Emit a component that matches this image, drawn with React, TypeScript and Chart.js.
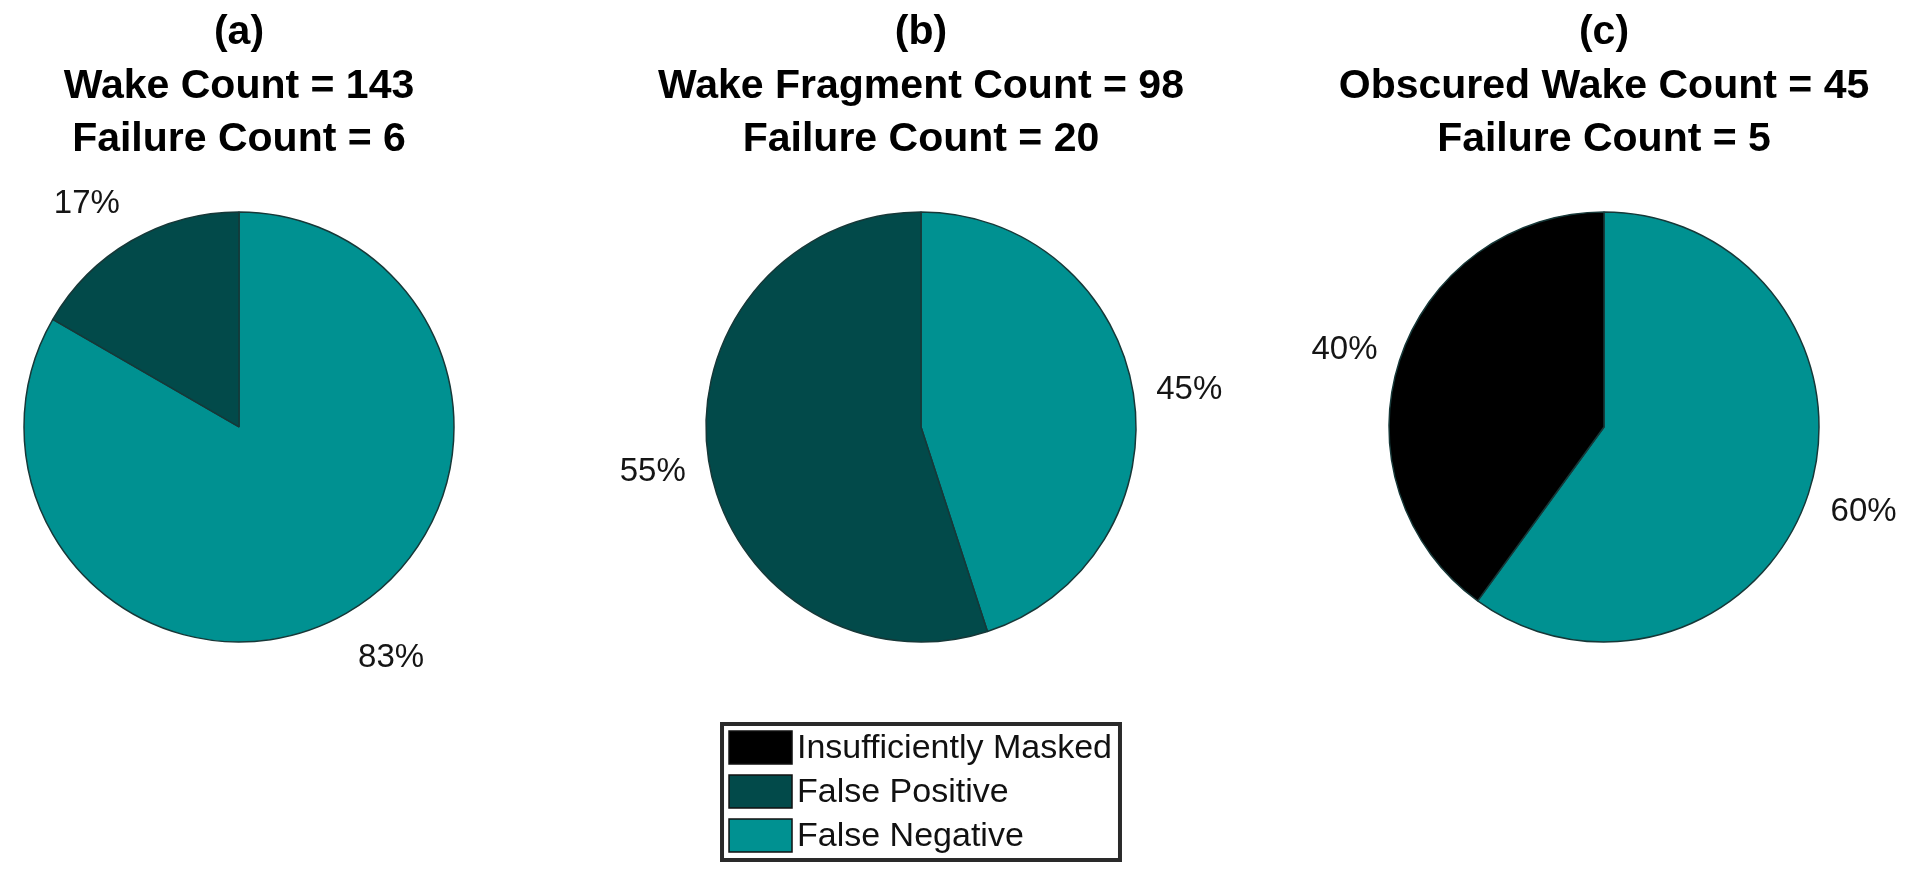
import React, { useEffect, useRef } from 'react';
import { Chart, registerables } from 'chart.js';

Chart.register(...registerables);

// ---------- data ----------
const categories = ['False Negative', 'False Positive', 'Insufficiently Masked'];
const sliceColors = ['#009191', '#024a4a', '#000000'];
const titleA = ['(a)', 'Wake Count = 143', 'Failure Count = 6'];
const titleB = ['(b)', 'Wake Fragment Count = 98', 'Failure Count = 20'];
const titleC = ['(c)', 'Obscured Wake Count = 45', 'Failure Count = 5'];
const countsA = [5, 1, 0];
const countsB = [9, 11, 0];
const countsC = [3, 0, 2];

const FONT = '"Liberation Sans", Arial, Helvetica, sans-serif';
const PANEL_W = 640;
const PANEL_H = 879;
const panelCenters = [239, 921, 1604];

const pctPlugin = {
  id: 'pctLabels',
  afterDatasetsDraw(chart: any) {
    const ctx = chart.ctx;
    const meta = chart.getDatasetMeta(0);
    const data = chart.data.datasets[0].data as number[];
    const total = data.reduce((a: number, b: number) => a + b, 0);
    ctx.save();
    ctx.font = `33px ${FONT}`;
    ctx.fillStyle = '#151515';
    ctx.textAlign = 'center';
    ctx.textBaseline = 'middle';
    meta.data.forEach((arc: any, i: number) => {
      if (!data[i]) return;
      const p = arc.getProps(['x', 'y', 'startAngle', 'endAngle', 'outerRadius'], true);
      const mid = (p.startAngle + p.endAngle) / 2;
      const ux = Math.cos(mid);
      const uy = Math.sin(mid);
      const txt = Math.round((data[i] / total) * 100) + '%';
      const w = ctx.measureText(txt).width;
      const x = p.x + ux * p.outerRadius * 1.2 + Math.sign(ux) * w * (0.5 - 0.3 * Math.abs(ux));
      const y = p.y + uy * p.outerRadius * 1.22 + 4;
      ctx.fillText(txt, x, y);
    });
    ctx.restore();
  },
};

const boxLegendPlugin = {
  id: 'boxLegend',
  afterDraw(chart: any, _args: any, opts: any) {
    if (!opts || !opts.display) return;
    const ctx = chart.ctx;
    const ds = chart.data.datasets[0];
    const labels = chart.data.labels as string[];
    const order = labels.map((_, i) => i).reverse();
    ctx.save();
    ctx.font = `34px ${FONT}`;
    const maxText = Math.max(...order.map((i) => ctx.measureText(labels[i]).width));
    const swW = 63, swH = 33, padL = 9, gap = 5, padR = 10, pitch = 44, padT = 9;
    const width = padL + swW + gap + maxText + padR;
    const height = padT + pitch * order.length - (pitch - swH) + 10;
    const cx = (chart.chartArea.left + chart.chartArea.right) / 2;
    const left = cx - width / 2;
    const top = opts.top;
    ctx.fillStyle = '#ffffff';
    ctx.fillRect(left, top, width, height);
    ctx.lineWidth = 4;
    ctx.strokeStyle = '#2a2a2a';
    ctx.strokeRect(left + 2, top + 2, width - 4, height - 4);
    order.forEach((i, row) => {
      const y = top + padT + row * pitch;
      ctx.fillStyle = ds.backgroundColor[i];
      ctx.fillRect(left + padL, y, swW, swH);
      ctx.lineWidth = 1.5;
      ctx.strokeStyle = '#111';
      ctx.strokeRect(left + padL, y, swW, swH);
      ctx.fillStyle = '#111';
      ctx.textAlign = 'left';
      ctx.textBaseline = 'middle';
      ctx.fillText(labels[i], left + padL + swW + gap, y + swH / 2 + 1);
    });
    ctx.restore();
  },
};

function makeConfig(counts: number[], title: string[], withLegend: boolean): any {
  return {
    type: 'pie',
    data: {
      labels: categories,
      datasets: [
        {
          data: counts,
          backgroundColor: sliceColors,
          borderColor: '#163838',
          borderWidth: 1.5,
          radius: 215,
        },
      ],
    },
    options: {
      responsive: false,
      animation: false,
      layout: { padding: { top: 0, bottom: 201.5, left: 0, right: 0 } },
      plugins: {
        legend: { display: false },
        tooltip: { enabled: false },
        title: {
          display: true,
          text: title,
          color: '#000',
          font: { family: FONT, size: 41, weight: 'bold', lineHeight: 1.3 },
          padding: { top: 6.5, bottom: 10 },
        },
        boxLegend: { display: withLegend, top: 722 },
      },
    },
    plugins: [pctPlugin, boxLegendPlugin],
  };
}

export default function App() {
  const refA = useRef<HTMLCanvasElement>(null);
  const refB = useRef<HTMLCanvasElement>(null);
  const refC = useRef<HTMLCanvasElement>(null);

  useEffect(() => {
    const charts: Chart[] = [];
    if (refA.current) charts.push(new Chart(refA.current, makeConfig(countsA, titleA, false)));
    if (refB.current) charts.push(new Chart(refB.current, makeConfig(countsB, titleB, true)));
    if (refC.current) charts.push(new Chart(refC.current, makeConfig(countsC, titleC, false)));
    return () => charts.forEach((c) => c.destroy());
  }, []);

  const refs = [refA, refB, refC];
  return (
    <div
      style={{
        position: 'absolute',
        left: 0,
        top: 0,
        width: 1911,
        height: 879,
        overflow: 'hidden',
        background: '#fff',
      }}
    >
      {refs.map((r, i) => (
        <canvas
          key={i}
          ref={r}
          width={PANEL_W}
          height={PANEL_H}
          style={{
            position: 'absolute',
            left: panelCenters[i] - PANEL_W / 2,
            top: 0,
            width: PANEL_W,
            height: PANEL_H,
          }}
        />
      ))}
    </div>
  );
}
